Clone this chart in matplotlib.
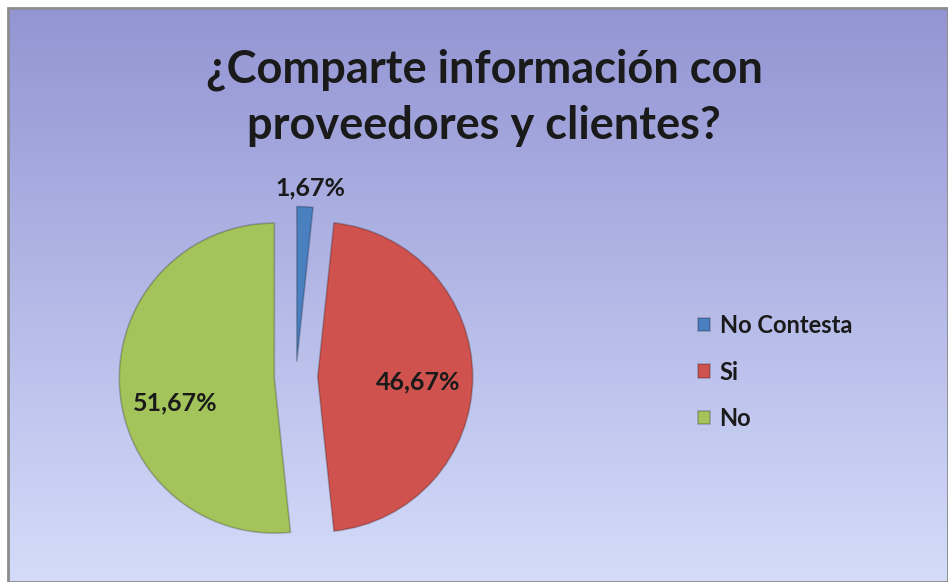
import numpy as np
import matplotlib.pyplot as plt
from matplotlib.patches import Rectangle

categories = ["No Contesta", "Si", "No"]
values = [1.67, 46.67, 51.67]
colors = ["#4a7fc0", "#cf524e", "#a3c45a"]
title = "¿Comparte información con\nproveedores y clientes?"

W, H = 948, 582
plt.rcParams["font.family"] = ["Lato", "DejaVu Sans"]

fig = plt.figure(figsize=(W / 100, H / 100), dpi=100)
fig.patch.set_facecolor("white")

# gradient background panel
bg = fig.add_axes([8 / W, 0, 940 / W, 574 / H])
grad = np.linspace(0, 1, 256)[:, None]
top = np.array([0x93, 0x95, 0xd3]) / 255
bot = np.array([0xd4, 0xdc, 0xfa]) / 255
img = top[None, None, :] * (1 - grad[:, :, None]) + bot[None, None, :] * grad[:, :, None]
bg.imshow(img, aspect="auto", extent=[0, 1, 0, 1])
bg.set_xlim(0, 1)
bg.set_ylim(0, 1)
bg.axis("off")
fig.add_artist(Rectangle((8 / W, 0), 940 / W, 574 / H, transform=fig.transFigure,
                         fill=False, edgecolor="#8c8c8c", linewidth=2))

fig.text(484 / W, 1 - 98 / H, title, ha="center", va="center", fontsize=32.5,
         fontweight="bold", color="#1a1a1a", linespacing=1.42)

# pie
R = 155
cx, cy = 296, 377
half = 1.4 * R
ax = fig.add_axes([(cx - half) / W, (H - cy - half) / H, 2 * half / W, 2 * half / H])

wedges, _ = ax.pie(values, colors=colors, startangle=90, counterclock=False,
                   explode=[0.1, 0.14, 0.14], radius=1,
                   wedgeprops=dict(edgecolor="none"))
for w in wedges:
    w.set_edgecolor((0, 0, 0, 0.22))
    w.set_linewidth(1.2)
ax.set_xlim(-1.4, 1.4)
ax.set_ylim(-1.4, 1.4)
ax.set_aspect("equal")
ax.axis("off")

labels = [f"{v:.2f}%".replace(".", ",") for v in values]
label_pos = [(0.09, 1.22), (0.79, -0.03), (-0.78, -0.17)]
for lab, (x, y) in zip(labels, label_pos):
    ax.text(x, y, lab, ha="center", va="center", fontsize=18,
            fontweight="bold", color="#1a1a1a")

leg = fig.legend(wedges, categories, loc="center left",
                 bbox_to_anchor=(677 / W, 1 - 372 / H), frameon=False,
                 prop=dict(size=17, weight="bold"), labelspacing=1.0,
                 handlelength=0.5, handleheight=0.5, handletextpad=0.4,
                 labelcolor="#1a1a1a")

fig.savefig("out.png", dpi=100)
